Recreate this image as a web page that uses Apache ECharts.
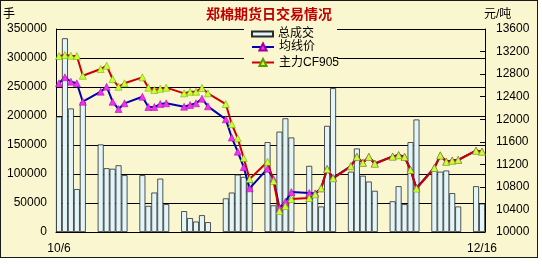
<!DOCTYPE html>
<html><head><meta charset="utf-8">
<script src="https://cdn.jsdelivr.net/npm/echarts@6/dist/echarts.min.js"></script>
<style>
html,body{margin:0;padding:0;background:#fff;}
#wrap{position:absolute;left:0;top:0;width:536px;height:256px;border:1px solid #1a1a1a;background:#faf6d0;}
#chart{width:536px;height:256px;}
</style></head><body>
<div id="wrap"><div id="chart"></div></div>
<script>
const dates = ['10/6','10/7','10/8','10/9','10/10','10/11','10/12','10/13','10/14','10/15','10/16','10/17','10/18','10/19',
'10/20','10/21','10/22','10/23','10/24','10/25','10/26','10/27','10/28','10/29','10/30','10/31','11/1','11/2',
'11/3','11/4','11/5','11/6','11/7','11/8','11/9','11/10','11/11','11/12','11/13','11/14','11/15','11/16',
'11/17','11/18','11/19','11/20','11/21','11/22','11/23','11/24','11/25','11/26','11/27','11/28','11/29','11/30',
'12/1','12/2','12/3','12/4','12/5','12/6','12/7','12/8','12/9','12/10','12/11','12/12','12/13','12/14',
'12/15','12/16'];

const volume = [
 199000, 334000, 213000, 74000, 224000, null, null,
 151000, 110000, 109000, 115000, 98000, null, null,
 98000, 45000, 68000, 92000, 48000, null, null,
 36000, 24000, 18000, 29000, 17000, null, null,
 58000, 68000, 99000, 95000, 87000, null, null,
 155000, 46000, 173000, 196000, 163000, null, null,
 114000, 65000, 44000, 183000, 248000, null, null,
 104000, 144000, 97000, 87000, 71000, null, null,
 53000, 79000, 48000, 155000, 194000, null, null,
 106000, 104000, 106000, 67000, 44000, null, null,
 79000, 49000];

const avgPrice = [
 12637, 12743, 12665, 12637, 12310, null, null,
 12488, 12576, 12310, 12181, 12282, null, null,
 12399, 12216, 12216, 12269, 12282, null, null,
 12222, 12252, 12282, 12364, 12228, null, null,
 11998, 11675, 11424, 11150, 10775, null, null,
 11123, 10940, 10431, 10537, 10709, null, null,
 10691, 10686, 10775, 11120, 10960, null, null,
 11170, 11335, 11230, 11335, 11215, null, null,
 11340, 11365, 11335, 11105, 10780, null, null,
 11140, 11360, 11250, 11270, 11280, null, null,
 11445, 11428];

const mainPrice = [
 13120, 13138, 13126, 13120, 12771, null, null,
 12890, 12949, 12713, 12576, 12637, null, null,
 12743, 12560, 12518, 12540, 12560, null, null,
 12459, 12488, 12488, 12555, 12459, null, null,
 12269, 11912, 11661, 11312, 10940, null, null,
 11247, 10904, 10372, 10461, 10585, null, null,
 10603, 10668, 10775, 11112, 10952, null, null,
 11165, 11330, 11225, 11330, 11210, null, null,
 11336, 11360, 11330, 11100, 10770, null, null,
 11135, 11355, 11245, 11265, 11277, null, null,
 11442, 11424];

const seriesNames = ['总成交', '均线价', '主力CF905'];
const volumeAxis = { min: 0, max: 350000, interval: 50000 };
const priceAxis = { min: 10000, max: 13600, interval: 400 };

const FONT = '"Liberation Sans","Noto Sans CJK SC",sans-serif';
const chart = echarts.init(document.getElementById('chart'), null, { renderer: 'canvas' });
const txt = { color: '#000', fontSize: 12, fontFamily: FONT, lineHeight: 14 };
const plain = (v) => String(v);

chart.setOption({
  animation: false,
  backgroundColor: '#faf6d0',
  title: [
    { text: '郑棉期货日交易情况', left: 'center', top: 6, padding: 0,
      textStyle: { color: '#c00000', fontSize: 14, fontWeight: 'bold', fontFamily: '"Noto Sans CJK SC",sans-serif' } },
    { text: '手', left: 2, top: 8, padding: 0,
      textStyle: { color: '#000', fontSize: 12, fontWeight: 'normal', fontFamily: FONT } },
    { text: '元/吨', left: 483, top: 8, padding: 0,
      textStyle: { color: '#000', fontSize: 12, fontWeight: 'normal', fontFamily: FONT } }
  ],
  legend: [
    { data: [seriesNames[0]], left: 243, top: 25, padding: [1, 23, 30, 7],
      itemWidth: 21, itemHeight: 5, icon: 'rect', backgroundColor: '#faf6d0',
      selectedMode: false, textStyle: txt },
    { data: [seriesNames[1], seriesNames[2]], orient: 'vertical', left: 243, top: 39,
      padding: [0, 0, 0, 7], itemWidth: 22, itemHeight: 9, itemGap: 1.5,
      selectedMode: false, textStyle: txt }
  ],
  grid: { left: 55, right: 52, top: 28, bottom: 25, containLabel: false },
  xAxis: {
    type: 'category', data: dates, boundaryGap: true,
    axisLine: { lineStyle: { color: '#000', width: 1 } },
    axisTick: { show: false },
    axisLabel: { interval: (i) => i === 0 || i === dates.length - 1, color: '#000', fontSize: 12, fontFamily: FONT, margin: 11 },
    splitLine: { show: false }
  },
  yAxis: [
    { type: 'value', min: volumeAxis.min, max: volumeAxis.max, interval: volumeAxis.interval,
      axisLine: { show: true, lineStyle: { color: '#000' } },
      axisTick: { show: true, inside: true, length: 5, lineStyle: { color: '#000' } },
      axisLabel: { color: '#000', fontSize: 12, fontFamily: FONT, margin: 9, formatter: plain },
      splitLine: { show: true, lineStyle: { color: '#000', width: 1 } } },
    { type: 'value', position: 'right', min: priceAxis.min, max: priceAxis.max, interval: priceAxis.interval,
      axisLine: { show: true, lineStyle: { color: '#000' } },
      axisTick: { show: true, inside: true, length: 5, lineStyle: { color: '#000' } },
      axisLabel: { color: '#000', fontSize: 12, fontFamily: FONT, margin: 11, formatter: plain },
      splitLine: { show: false } }
  ],
  series: [
    { name: seriesNames[0], type: 'bar', yAxisIndex: 0, data: volume, barCategoryGap: '0%',
      itemStyle: { color: '#e2f6fa', borderColor: '#2a2a2a', borderWidth: 0.8 } },
    { name: seriesNames[1], type: 'line', yAxisIndex: 1, data: avgPrice, connectNulls: true,
      showAllSymbol: true, symbol: 'triangle', symbolSize: 7,
      lineStyle: { color: '#0000b0', width: 2 },
      itemStyle: { color: '#ee33ee', borderColor: '#a000a0', borderWidth: 0.5 } },
    { name: seriesNames[2], type: 'line', yAxisIndex: 1, data: mainPrice, connectNulls: true,
      showAllSymbol: true, symbol: 'triangle', symbolSize: 7,
      lineStyle: { color: '#cc0000', width: 2 },
      itemStyle: { color: '#ccff33', borderColor: '#55a000', borderWidth: 0.5 } }
  ]
});
</script>
</body></html>
